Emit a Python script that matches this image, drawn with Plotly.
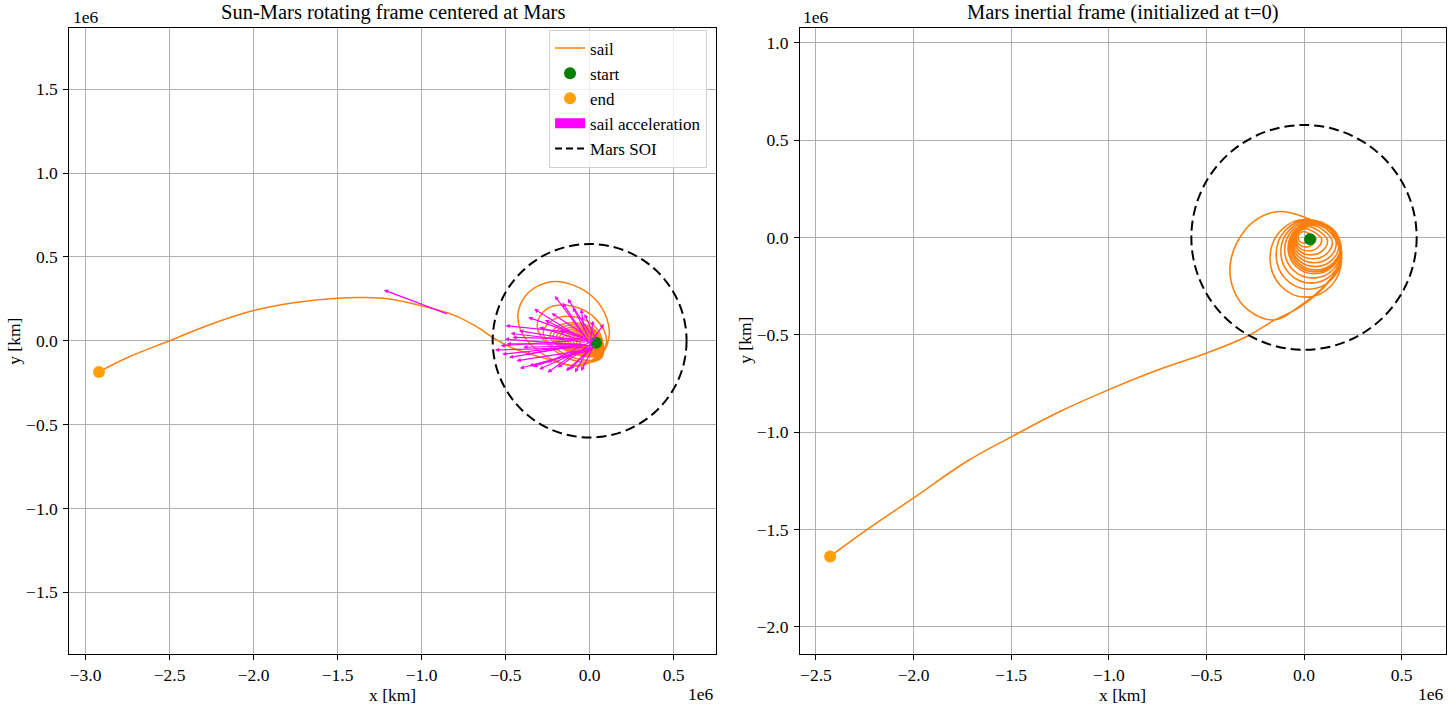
import plotly.graph_objects as go

# ---- Sun-Mars rotating frame, units of 1e6 km ----
# spiral loops around Mars (each row: one revolution)
rot_loops_x = [0.038,
               0.042, 0.015, -0.032, -0.06, -0.042, 0.0, 0.032, 0.045,
               0.045, 0.013, -0.044, -0.078, -0.058, -0.008, 0.031, 0.048,
               0.048, 0.01, -0.055, -0.095, -0.073, -0.015, 0.030, 0.05,
               0.050, 0.008, -0.067, -0.113, -0.087, -0.020, 0.031, 0.053,
               0.052, 0.005, -0.078, -0.13, -0.100, -0.025, 0.031, 0.055,
               0.055, 0.003, -0.090, -0.148, -0.114, -0.030, 0.032, 0.058,
               0.057, 0.0, -0.102, -0.165, -0.127, -0.035, 0.032, 0.06,
               0.058, -0.005, -0.116, -0.183, -0.141, -0.040, 0.033, 0.063,
               0.059, -0.01, -0.129, -0.20, -0.154, -0.045, 0.034, 0.065,
               0.060, -0.015, -0.143, -0.218, -0.169, -0.052, 0.034, 0.068,
               0.061, -0.02, -0.156, -0.236, -0.183, -0.058, 0.034, 0.071,
               0.062, -0.038, -0.190, -0.276, -0.218, -0.077, 0.035, 0.081,
               0.069, -0.058, -0.223, -0.312, -0.257, -0.107, 0.035, 0.101,
               0.075, -0.06, -0.20, -0.33, -0.41, -0.425, -0.38, -0.30, -0.20, -0.06, 0.04, 0.10, 0.117,
               0.078, -0.06]
rot_loops_y = [-0.012,
               -0.037, -0.045, -0.033, -0.01, 0.009, 0.015, 0.006, -0.015,
               -0.044, -0.053, -0.038, -0.01, 0.015, 0.023, 0.010, -0.018,
               -0.050, -0.06, -0.043, -0.01, 0.020, 0.03, 0.013, -0.02,
               -0.054, -0.065, -0.046, -0.008, 0.027, 0.038, 0.018, -0.02,
               -0.058, -0.07, -0.048, -0.005, 0.033, 0.045, 0.023, -0.02,
               -0.063, -0.075, -0.050, -0.003, 0.040, 0.053, 0.028, -0.02,
               -0.067, -0.08, -0.052, 0.0, 0.047, 0.06, 0.032, -0.02,
               -0.071, -0.084, -0.053, 0.005, 0.057, 0.070, 0.038, -0.02,
               -0.074, -0.088, -0.053, 0.01, 0.066, 0.08, 0.044, -0.02,
               -0.077, -0.092, -0.053, 0.018, 0.078, 0.092, 0.053, -0.018,
               -0.080, -0.095, -0.052, 0.025, 0.089, 0.104, 0.061, -0.015,
               -0.100, -0.115, -0.055, 0.044, 0.125, 0.140, 0.080, -0.02,
               -0.103, -0.125, -0.047, 0.084, 0.188, 0.207, 0.132, 0.005,
               -0.065, -0.145, -0.12, -0.04, 0.06, 0.17, 0.27, 0.33, 0.353, 0.315, 0.24, 0.14, 0.035,
               -0.07, -0.15]
# departure arc out of the SOI
rot_escape_x = [-0.256, -0.455, -0.57, -0.673, -0.812, -1.0, -1.2, -1.35, -1.5, -1.75, -2.0, -2.25, -2.5, -2.75, -2.92]
rot_escape_y = [-0.108, -0.045, 0.015, 0.084, 0.154, 0.208, 0.25, 0.258, 0.254, 0.228, 0.18, 0.10, 0.0, -0.10, -0.186]

# ---- Mars inertial frame, units of 1e6 km ----
# each row: one clockwise revolution (right, lower right, bottom, lower left, left, upper left, top, upper right)
inr_loops_x = [0.031,
               0.022, 0.0, -0.021, -0.030, -0.021, 0.0, 0.022,
               0.060, 0.045, 0.010, -0.025, -0.040, -0.025, 0.010, 0.045,
               0.090, 0.070, 0.023, -0.025, -0.045, -0.025, 0.023, 0.070,
               0.120, 0.095, 0.035, -0.025, -0.050, -0.025, 0.035, 0.095,
               0.145, 0.116, 0.045, -0.026, -0.055, -0.026, 0.045, 0.116,
               0.165, 0.132, 0.053, -0.027, -0.060, -0.027, 0.053, 0.132,
               0.178, 0.143, 0.058, -0.028, -0.063, -0.028, 0.058, 0.143,
               0.186, 0.149, 0.060, -0.029, -0.066, -0.029, 0.060, 0.149,
               0.187, 0.149, 0.057, -0.036, -0.074, -0.036, 0.057, 0.149,
               0.188, 0.148, 0.053, -0.042, -0.082, -0.042, 0.053, 0.148,
               0.190, 0.148, 0.046, -0.057, -0.099, -0.057, 0.046, 0.148,
               0.192, 0.146, 0.036, -0.073, -0.119, -0.073, 0.036, 0.146,
               0.193, 0.144, 0.025, -0.094, -0.143, -0.094, 0.025, 0.144,
               0.193, 0.139, 0.010, -0.120, -0.174, -0.120, 0.010, 0.139,
               0.19, 0.12, -0.02, -0.157, -0.29, -0.36, -0.379, -0.345, -0.26, -0.14, 0.0, 0.12,
               0.185, 0.178, 0.12, -0.02]
inr_loops_y = [-0.009,
               -0.021, -0.030, -0.021, 0.0, 0.021, 0.030, 0.021,
               -0.003, -0.036, -0.050, -0.036, -0.003, 0.031, 0.045, 0.031,
               -0.008, -0.052, -0.070, -0.052, -0.008, 0.037, 0.055, 0.037,
               -0.014, -0.068, -0.090, -0.068, -0.014, 0.040, 0.062, 0.040,
               -0.021, -0.084, -0.110, -0.084, -0.021, 0.042, 0.068, 0.042,
               -0.029, -0.100, -0.130, -0.100, -0.029, 0.042, 0.072, 0.042,
               -0.038, -0.117, -0.150, -0.117, -0.038, 0.041, 0.074, 0.041,
               -0.046, -0.132, -0.167, -0.132, -0.046, 0.041, 0.076, 0.041,
               -0.050, -0.140, -0.177, -0.140, -0.050, 0.041, 0.078, 0.041,
               -0.054, -0.148, -0.187, -0.148, -0.054, 0.041, 0.080, 0.041,
               -0.063, -0.166, -0.209, -0.166, -0.063, 0.040, 0.083, 0.040,
               -0.074, -0.188, -0.235, -0.188, -0.074, 0.040, 0.087, 0.040,
               -0.088, -0.214, -0.266, -0.214, -0.088, 0.038, 0.090, 0.038,
               -0.107, -0.248, -0.307, -0.248, -0.107, 0.034, 0.093, 0.034,
               -0.11, -0.232, -0.352, -0.424, -0.37, -0.27, -0.15, -0.03, 0.08, 0.132, 0.105, 0.04,
               -0.07, -0.14, -0.237, -0.357]
inr_escape_x = [-0.16, -0.293, -0.502, -0.746, -1.002, -1.250, -1.497, -1.728, -2.001, -2.240, -2.427]
inr_escape_y = [-0.43, -0.509, -0.595, -0.680, -0.783, -0.894, -1.023, -1.151, -1.339, -1.502, -1.638]

# sail acceleration arrows (rotating frame): tail -> tip, units of 1e6 km
acc_tail_x = [-0.01, 0.0, -0.03, 0.01, -0.02, 0.0, -0.04, -0.02, 0.01, -0.01,
              0.0, 0.02, 0.01, 0.0, -0.02, -0.05, 0.02, 0.02, -0.03, 0.0,
              0.02, -0.06, -0.10, -0.08, 0.03, 0.0, -0.02, 0.01, -0.04, 0.02,
              -0.12, -0.15, -0.09, -0.06, 0.04, -0.03, -0.07, 0.0, -0.84]
acc_tail_y = [0.0, -0.02, 0.02, -0.01, -0.01, -0.03, -0.02, -0.04, -0.05, -0.06,
              -0.04, -0.03, -0.02, -0.02, 0.03, -0.03, 0.0, -0.01, -0.05, 0.01,
              0.02, 0.0, 0.0, -0.03, -0.02, -0.01, -0.02, 0.0, 0.01, -0.04,
              0.05, -0.04, 0.04, -0.07, 0.0, 0.05, -0.06, -0.05, 0.157]
acc_tip_x = [-0.207, -0.161, -0.365, -0.266, -0.470, -0.504, -0.494, -0.564, -0.435, -0.415,
             -0.336, -0.117, -0.088, 0.085, -0.226, -0.395, -0.25, -0.19, -0.30, -0.10,
             -0.13, -0.42, -0.53, -0.48, -0.05, -0.30, -0.38, -0.18, -0.46, -0.14,
             -0.50, -0.52, -0.33, -0.36, -0.03, -0.05, -0.25, 0.02, -1.224]
acc_tip_y = [0.267, 0.227, 0.140, 0.124, 0.044, 0.010, -0.019, -0.055, -0.119, -0.164,
             -0.155, -0.170, -0.190, 0.100, 0.164, -0.039, -0.13, -0.16, -0.17, 0.20,
             0.25, 0.06, -0.03, -0.10, -0.18, 0.08, -0.08, 0.06, 0.02, -0.18,
             0.09, -0.08, 0.19, -0.15, 0.16, 0.19, -0.19, 0.12, 0.303]

rot_start = (0.038, -0.012)
rot_end = (-2.92, -0.186)
inr_start = (0.031, -0.009)
inr_end = (-2.427, -1.638)
soi_radius = 0.577  # 1e6 km

left_xticks = [-3.0, -2.5, -2.0, -1.5, -1.0, -0.5, 0.0, 0.5]
left_yticks = [-1.5, -1.0, -0.5, 0.0, 0.5, 1.0, 1.5]
right_xticks = [-2.5, -2.0, -1.5, -1.0, -0.5, 0.0, 0.5]
right_yticks = [-2.0, -1.5, -1.0, -0.5, 0.0, 0.5, 1.0]

KM = 1e6
FONT = 'Liberation Serif, Times New Roman, serif'
SAIL = '#ff7f0e'
END = '#ff9f0a'
START = 'green'
MAG = '#ff00ff'


def km(vals):
    return [v * KM for v in vals]


def lab(v):
    return f'{v:.1f}'.replace('-', '\u2212')


rot_x = km(rot_loops_x + rot_escape_x)
rot_y = km(rot_loops_y + rot_escape_y)
inr_x = km(inr_loops_x + inr_escape_x)
inr_y = km(inr_loops_y + inr_escape_y)

fig = go.Figure()

# left panel
fig.add_trace(go.Scatter(x=rot_x, y=rot_y, mode='lines', name='sail',
                         line=dict(color=SAIL, width=1.5, shape='spline', smoothing=1.1),
                         xaxis='x', yaxis='y'))
fig.add_trace(go.Scatter(x=[rot_start[0] * KM], y=[rot_start[1] * KM], mode='markers', name='start',
                         marker=dict(color=START, size=12), xaxis='x', yaxis='y'))
fig.add_trace(go.Scatter(x=[rot_end[0] * KM], y=[rot_end[1] * KM], mode='markers', name='end',
                         marker=dict(color=END, size=12), xaxis='x', yaxis='y'))
fig.add_trace(go.Scatter(x=[None], y=[None], mode='lines', name='sail acceleration',
                         line=dict(color=MAG, width=11), xaxis='x', yaxis='y'))
fig.add_trace(go.Scatter(x=[None], y=[None], mode='lines', name='Mars SOI',
                         line=dict(color='black', width=2, dash='7px,4px'), xaxis='x', yaxis='y'))

# right panel
fig.add_trace(go.Scatter(x=inr_x, y=inr_y, mode='lines', showlegend=False,
                         line=dict(color=SAIL, width=1.6, shape='spline', smoothing=1.1),
                         xaxis='x2', yaxis='y2'))
fig.add_trace(go.Scatter(x=[inr_start[0] * KM], y=[inr_start[1] * KM], mode='markers', showlegend=False,
                         marker=dict(color=START, size=12), xaxis='x2', yaxis='y2'))
fig.add_trace(go.Scatter(x=[inr_end[0] * KM], y=[inr_end[1] * KM], mode='markers', showlegend=False,
                         marker=dict(color=END, size=12), xaxis='x2', yaxis='y2'))

# Mars sphere of influence
for xr, yr in (('x', 'y'), ('x2', 'y2')):
    fig.add_shape(type='circle', xref=xr, yref=yr,
                  x0=-soi_radius * KM, x1=soi_radius * KM, y0=-soi_radius * KM, y1=soi_radius * KM,
                  line=dict(color='black', width=2, dash='10px,5px'))

# sail acceleration arrows
for tx, ty, hx, hy in zip(acc_tail_x, acc_tail_y, acc_tip_x, acc_tip_y):
    fig.add_annotation(x=hx * KM, y=hy * KM, ax=tx * KM, ay=ty * KM,
                       xref='x', yref='y', axref='x', ayref='y', text='',
                       showarrow=True, arrowhead=2, arrowsize=0.7, arrowwidth=1.2, arrowcolor=MAG)

axis_style = dict(showgrid=True, gridcolor='#b0b0b0', gridwidth=1, zeroline=False,
                  showline=True, linecolor='black', linewidth=1.2, mirror=True,
                  ticks='outside', ticklen=5, tickwidth=1.2, tickcolor='black',
                  tickfont=dict(family=FONT, size=17.5, color='black'))

fig.update_layout(
    width=1456, height=711,
    margin=dict(l=0, r=0, t=0, b=0),
    paper_bgcolor='white', plot_bgcolor='white',
    font=dict(family=FONT, size=17.5, color='black'),
    xaxis=dict(domain=[0.0477, 0.4915], range=[-3.096 * KM, 0.75 * KM], ticklabelstandoff=0,
               tickvals=km(left_xticks), ticktext=[lab(v) for v in left_xticks], **axis_style),
    yaxis=dict(domain=[0.0802, 0.9613], range=[-1.868 * KM, 1.868 * KM], ticklabelstandoff=2,
               tickvals=km(left_yticks), ticktext=[lab(v) for v in left_yticks], **axis_style),
    xaxis2=dict(domain=[0.5495, 0.9931], range=[-2.581 * KM, 0.727 * KM], anchor='y2', ticklabelstandoff=0,
                tickvals=km(right_xticks), ticktext=[lab(v) for v in right_xticks], **axis_style),
    yaxis2=dict(domain=[0.0802, 0.9606], range=[-2.139 * KM, 1.075 * KM], anchor='x2', ticklabelstandoff=2,
                tickvals=km(right_yticks), ticktext=[lab(v) for v in right_yticks], **axis_style),
    legend=dict(x=0.4856, y=0.9585, xanchor='right', yanchor='top',
                bgcolor='rgba(255,255,255,0.8)', bordercolor='#d0d0d0', borderwidth=1,
                font=dict(family=FONT, size=17, color='black'), tracegroupgap=0),
    showlegend=True,
)

# (text, x, y, xanchor, yanchor, size, angle)
texts = [
    ('Sun-Mars rotating frame centered at Mars', 0.2696, 0.9831, 'center', 'middle', 20.5, 0),
    ('Mars inertial frame (initialized at t=0)', 0.7713, 0.9831, 'center', 'middle', 20.5, 0),
    ('1e6', 0.0488, 0.9761, 'left', 'middle', 17.5, 0),
    ('1e6', 0.5501, 0.9761, 'left', 'middle', 17.5, 0),
    ('1e6', 0.4915, 0.0239, 'right', 'middle', 17.5, 0),
    ('1e6', 0.9931, 0.0239, 'right', 'middle', 17.5, 0),
    ('x [km]', 0.2696, 0.0225, 'center', 'middle', 17.5, 0),
    ('x [km]', 0.7710, 0.0225, 'center', 'middle', 17.5, 0),
    ('y [km]', 0.0096, 0.5207, 'center', 'middle', 17.5, -90),
    ('y [km]', 0.5117, 0.5207, 'center', 'middle', 17.5, -90),
]
for t, x, y, xa, ya, size, ang in texts:
    fig.add_annotation(text=t, x=x, y=y, xref='paper', yref='paper', xanchor=xa, yanchor=ya,
                       showarrow=False, textangle=ang, font=dict(family=FONT, size=size, color='black'))

# drop the browser's default page margin so the 1456x711 figure fills the window
fig.write_html('out.html', config={'displayModeBar': False},
               post_script="document.body.style.margin = '0';")
